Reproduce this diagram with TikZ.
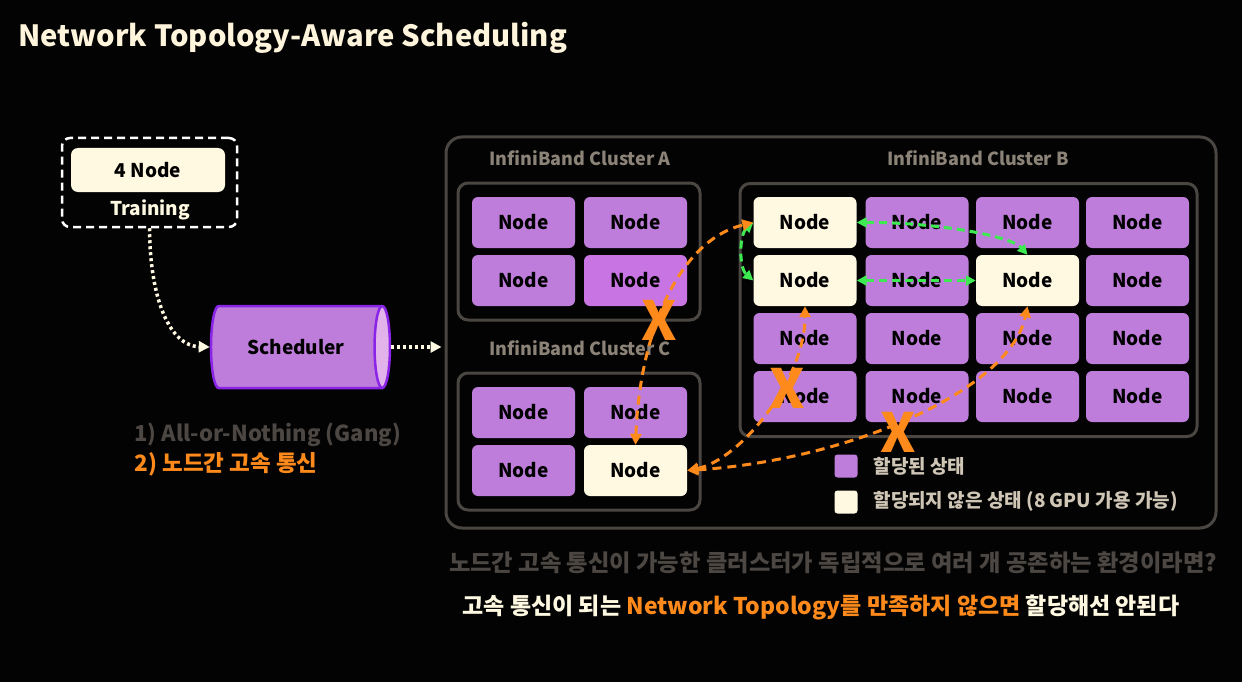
\documentclass[tikz,border=0pt]{standalone}
\usepackage{fontspec}
\setmainfont{Noto Sans CJK KR}
\usetikzlibrary{shapes.geometric,arrows.meta}
\definecolor{bgc}{HTML}{030303}
\definecolor{cream}{HTML}{FFF9E2}
\definecolor{titlec}{HTML}{FFF5DC}
\definecolor{purp}{HTML}{BF7DDB}
\definecolor{purp2}{HTML}{C874E2}
\definecolor{boxg}{HTML}{4A4642}
\definecolor{lbl}{HTML}{8C8378}
\definecolor{orng}{HTML}{FF8A1C}
\definecolor{grn}{HTML}{3EEA52}
\definecolor{dgray}{HTML}{4C4742}
\definecolor{leg}{HTML}{CFC6B6}
\definecolor{violetc}{HTML}{8A24E6}
\definecolor{cylend}{HTML}{E2B2EA}
\newcommand{\fs}[1]{\bfseries\fontsize{#1}{#1}\selectfont}
\tikzset{
  nd/.style={fill=purp, rounded corners=6, minimum width=103, minimum height=51, inner sep=0, font=\fs{19}},
  fr/.style={nd, fill=cream},
  clbox/.style={draw=boxg, line width=3, rounded corners=10},
  cllabel/.style={text=lbl, font=\fs{18}},
  oarrow/.style={draw=orng, line width=3, dash pattern=on 9pt off 6pt, {Triangle[length=11pt,width=11pt]}-{Triangle[length=11pt,width=11pt]}},
  garrow/.style={draw=grn, line width=3, dash pattern=on 8pt off 5pt, {Triangle[length=10pt,width=10pt]}-{Triangle[length=10pt,width=10pt]}},
  darrow/.style={draw=cream, line width=3.5, dash pattern=on 3pt off 3pt, -{Triangle[length=11pt,width=11pt]}},
  xmark/.style={text=orng, font=\fs{54}, inner sep=0},
  legsq/.style={rounded corners=3, minimum size=23, inner sep=0},
  legtext/.style={anchor=west, text=leg, font=\fs{19}}
}
\begin{document}
\begin{tikzpicture}[x=1pt,y=-1pt]
\fill[bgc] (0,0) rectangle (1242,682);
\useasboundingbox (0,0) rectangle (1242,682);

\node[anchor=west, text=titlec, font=\fs{29.2}] (title) at (15,38) {Network Topology-Aware Scheduling};

% job
\node[draw=white, line width=2.5, dash pattern=on 8pt off 5pt, rounded corners=8, minimum width=175, minimum height=89] (job) at (149.5,182.5) {};
\node[fill=cream, rounded corners=7, minimum width=154, minimum height=44, inner sep=0, font=\fs{19}] (fournode) at (148,170) {4 Node};
\node[text=cream, font=\fs{19}] (training) at (150,210) {Training};

% scheduler
\node[cylinder, shape border rotate=0, aspect=1, draw=violetc, line width=2.5, cylinder uses custom fill, cylinder body fill=purp, cylinder end fill=cylend, minimum height=179, minimum width=82, inner sep=0, font=\fs{19}] (sched) at (296,347) {Scheduler};

% outer box
\node[draw=boxg, line width=3, rounded corners=16, minimum width=770, minimum height=391] (outer) at (831,332.5) {};

\draw[darrow] (job.south) .. controls (150,300) and (170,346) .. (sched.west);
\draw[darrow] (sched.east) -- ([xshift=-3pt]outer.west |- sched.east);

\node[anchor=west, text=dgray, font=\fs{22}] (gang) at (131,435) {1) All-or-Nothing (Gang)};
\node[anchor=west, text=orng, font=\fs{22.5}] (fast) at (131,464) {2) 노드간 고속 통신};

% clusters
\node[clbox, minimum width=242, minimum height=137] (ca) at (579,251.5) {};
\node[clbox, minimum width=242, minimum height=137] (cc) at (579,441.5) {};
\node[clbox, minimum width=457, minimum height=253] (cb) at (968.5,310) {};
\node[cllabel] (la) at (580,158) {InfiniBand Cluster A};
\node[cllabel] (lc) at (580,348) {InfiniBand Cluster C};
\node[cllabel] (lb) at (978,158) {InfiniBand Cluster B};

% cluster A nodes
\node[nd] (a11) at (523.5,222.5) {Node};
\node[nd] (a12) at (635.5,222.5) {Node};
\node[nd] (a21) at (523.5,280.5) {Node};
\node[nd, fill=purp2] (a22) at (635.5,280.5) {Node};
% cluster C nodes
\node[nd] (c11) at (523.5,412.5) {Node};
\node[nd] (c12) at (635.5,412.5) {Node};
\node[nd] (c21) at (523.5,470.5) {Node};
\node[fr] (c22) at (635.5,470.5) {Node};
% cluster B nodes
\node[fr] (b11) at (805,222.5) {Node};
\node[nd] (b12) at (917,222.5) {Node};
\node[nd] (b13) at (1027.5,222.5) {Node};
\node[nd] (b14) at (1137.5,222.5) {Node};
\node[fr] (b21) at (805,280.5) {Node};
\node[nd] (b22) at (917,280.5) {Node};
\node[fr] (b23) at (1027.5,280.5) {Node};
\node[nd] (b24) at (1137.5,280.5) {Node};
\node[nd] (b31) at (805,338.5) {Node};
\node[nd] (b32) at (917,338.5) {Node};
\node[nd] (b33) at (1027.5,338.5) {Node};
\node[nd] (b34) at (1137.5,338.5) {Node};
\node[nd] (b41) at (805,396.5) {Node};
\node[nd] (b42) at (917,396.5) {Node};
\node[nd] (b43) at (1027.5,396.5) {Node};
\node[nd] (b44) at (1137.5,396.5) {Node};

% green arrows
\draw[garrow] (b11.east) .. controls (930,222) and (1010,235) .. (b23.north);
\draw[garrow] (b21.east) -- (b23.west);
\draw[garrow] (b11.west) .. controls (739,235) and (739,268) .. (b21.west);

% orange arrows
\draw[oarrow] (c22.north) .. controls (640,330) and (680,240) .. (b11.west);
\draw[oarrow] (c22.east) .. controls (740,460) and (805,380) .. (b21.south);
\draw[oarrow] (c22.east) .. controls (850,460) and (1010,390) .. (b23.south);

\node[xmark] (x1) at (659,320) {X};
\node[xmark] (x2) at (787,388) {X};
\node[xmark] (x3) at (898,432) {X};

% legend
\node[legsq, fill=purp] (legp) at (846,466) {};
\node[legtext] (legpt) at (870,466) {할당된 상태};
\node[legsq, fill=cream] (legc) at (846,502) {};
\node[legtext] (legct) at (870,501) {할당되지 않은 상태 (8 GPU 가용 가능)};

% bottom text
\node[text=dgray, font=\fs{23.3}] (q) at (833,563) {노드간 고속 통신이 가능한 클러스터가 독립적으로 여러 개 공존하는 환경이라면?};
\node[anchor=west, text=cream, font=\fs{23}] (ans) at (459,607) {고속 통신이 되는 \textcolor{orng}{Network Topology를 만족하지 않으면} 할당해선 안된다};
\end{tikzpicture}
\end{document}
